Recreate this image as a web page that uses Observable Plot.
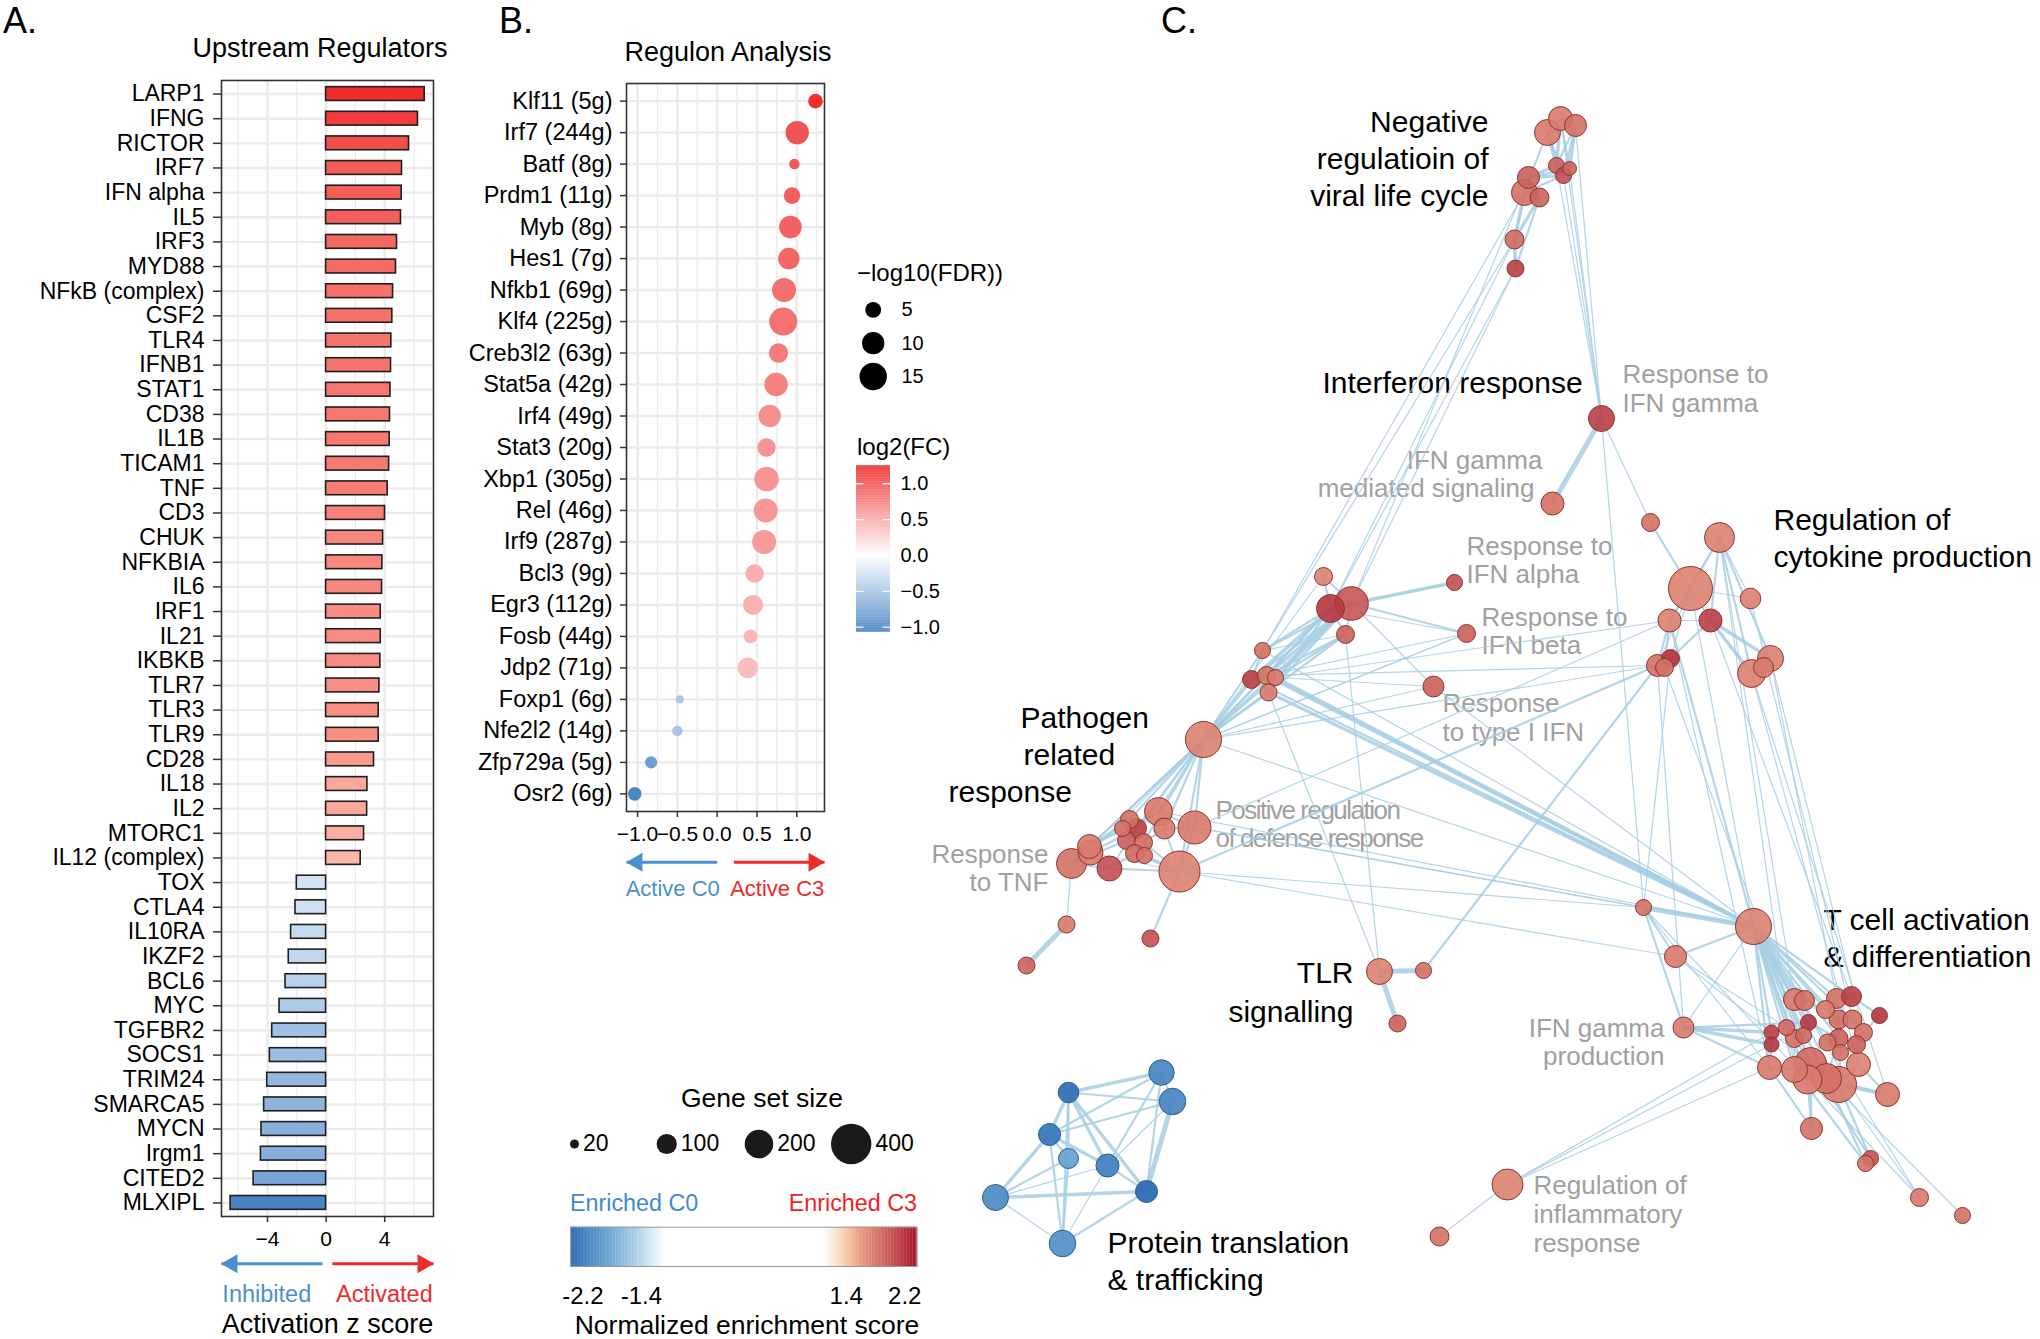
<!DOCTYPE html>
<html><head><meta charset="utf-8">
<script src="https://cdn.jsdelivr.net/npm/d3@7"></script>
<script src="https://cdn.jsdelivr.net/npm/@observablehq/plot@0.6"></script>
<style>
body{margin:0;background:#fff;}
#page{position:relative;width:2040px;height:1339px;overflow:hidden;background:#fff;font-family:"Liberation Sans",Arial,sans-serif;color:#000;}
.abs{position:absolute;}
.abs svg{overflow:visible;}
.txt{position:absolute;white-space:nowrap;line-height:1;}
</style></head><body><div id="page"></div>
<script>
// ---------------- DATA ----------------
// Panel A: Upstream regulators (activation z score)
const regulators = ["LARP1","IFNG","RICTOR","IRF7","IFN alpha","IL5","IRF3","MYD88","NFkB (complex)","CSF2","TLR4","IFNB1","STAT1","CD38","IL1B","TICAM1","TNF","CD3","CHUK","NFKBIA","IL6","IRF1","IL21","IKBKB","TLR7","TLR3","TLR9","CD28","IL18","IL2","MTORC1","IL12 (complex)","TOX","CTLA4","IL10RA","IKZF2","BCL6","MYC","TGFBR2","SOCS1","TRIM24","SMARCA5","MYCN","Irgm1","CITED2","MLXIPL"];
const zScores = [6.73,6.27,5.66,5.18,5.16,5.11,4.84,4.77,4.57,4.52,4.45,4.43,4.39,4.36,4.34,4.30,4.20,4.02,3.89,3.84,3.82,3.73,3.73,3.70,3.64,3.59,3.59,3.27,2.82,2.80,2.59,2.36,-2.00,-2.09,-2.39,-2.55,-2.77,-3.18,-3.68,-3.84,-4.02,-4.23,-4.41,-4.45,-4.95,-6.52];
const zTicks = [-4, 0, 4];
const zMinorGrid = [-6, -2, 2, 6];

// Panel B: Regulon analysis
const regulonNames = ["Klf11","Irf7","Batf","Prdm1","Myb","Hes1","Nfkb1","Klf4","Creb3l2","Stat5a","Irf4","Stat3","Xbp1","Rel","Irf9","Bcl3","Egr3","Fosb","Jdp2","Foxp1","Nfe2l2","Zfp729a","Osr2"];
const regulonGenes = [5,244,8,11,8,7,69,225,63,42,49,20,305,46,287,9,112,44,71,6,14,5,6];
const regulonFC = [1.235,1.005,0.97,0.94,0.92,0.90,0.84,0.83,0.77,0.74,0.66,0.62,0.62,0.61,0.59,0.47,0.45,0.42,0.385,-0.47,-0.50,-0.83,-1.035];
const regulonFDR = [4.3,10.9,2.2,5.5,10.2,9.2,11.5,15.7,7.5,10.9,10.0,6.8,12.1,11.5,11.5,6.9,8.0,3.9,8.5,1.3,2.2,2.9,3.7];
const fcTicks = [-1, -0.5, 0, 0.5, 1];
const fcMinorGrid = [-0.75, -0.25, 0.25, 0.75, 1.25];
const fdrLegend = [5, 10, 15];
const fcLegendTicks = [-1, -0.5, 0, 0.5, 1];

// Panel C: enrichment map nodes [id, layoutX, layoutY, gene set size, NES]
const viralNodes = [["V1",1547,132,166,1.8],["V2",1560,118,141,1.8],["V3",1575,125,119,1.85],["V4",1556,165,63,1.95],["V5",1569,168,48,1.95],["V6",1563,175,63,2.05],["V7",1528,177,119,1.95],["V8",1524,192,166,1.85],["V9",1539,197,88,1.95],["V10",1514,239,88,1.9],["V11",1515,268,71,2.15]];
const ifnNodes = [["I1",1601,418,166,2.15],["I2",1552,503,130,1.85],["I3",1323,576,79,1.75],["I4",1351,603,277,2.0],["I5",1330,608,192,2.2],["I6",1345,634,79,1.95],["I7",1454,582,63,2.05],["I8",1466,633,79,1.95],["I9",1433,686,108,1.95],["I10",1262,650,63,1.85],["I11",1251,679,79,2.15],["I12",1266,675,79,1.85],["I13",1275,677,63,1.8],["I14",1268,692,71,1.8],["I15",1650,522,79,1.85]];
const cytokineNodes = [["K1",1719,537,221,1.75],["K2",1690,588,474,1.75],["K3",1750,598,104,1.75],["K4",1669,620,130,1.75],["K5",1710,620,130,2.15],["K6",1670,658,79,2.25],["K7",1657,665,119,1.85],["K8",1664,667,79,1.85],["K9",1770,658,166,1.75],["K10",1751,673,192,1.75],["K11",1763,667,98,1.8]];
const pathogenNodes = [["P1",1203,739,318,1.75],["P2",1158,811,192,1.8],["P3",1194,827,267,1.8],["P4",1164,828,108,1.8],["P5",1129,819,79,1.85],["P6",1136,828,98,2.15],["P7",1122,828,63,1.85],["P8",1126,840,79,1.95],["P9",1143,842,79,1.9],["P10",1134,853,79,1.9],["P11",1144,855,63,1.85],["P12",1089,846,141,1.8],["P13",1090,852,153,1.8],["P14",1071,863,221,1.85],["P15",1109,868,153,2.05],["P16",1179,871,412,1.75],["P17",1066,924,71,1.8],["P18",1026,965,71,1.95],["P19",1150,938,71,2.05]];
const tlrNodes = [["L1",1379,971,166,1.75],["L2",1423,970,63,1.85],["L3",1397,1023,71,1.95]];
const tcellNodes = [["T1",1643,907,63,1.85],["T2",1753,926,318,1.75],["T3",1675,956,119,1.8],["T4",1683,1027,108,1.8],["T5",1794,999,119,1.8],["T6",1804,1000,98,1.85],["T7",1836,998,98,1.85],["T8",1851,996,98,2.15],["T9",1825,1009,79,1.8],["T10",1879,1015,63,2.2],["T11",1808,1022,63,2.2],["T12",1838,1019,88,1.9],["T13",1852,1019,88,1.85],["T14",1786,1027,63,1.9],["T15",1771,1032,55,2.15],["T16",1771,1044,55,2.2],["T17",1794,1038,79,1.85],["T18",1803,1035,63,1.9],["T19",1863,1032,79,1.85],["T20",1838,1038,88,1.95],["T21",1827,1042,71,1.85],["T22",1856,1044,79,1.95],["T23",1840,1052,63,1.85],["T24",1769,1067,141,1.8],["T25",1794,1069,166,1.8],["T26",1810,1063,251,1.9],["T27",1858,1064,141,1.75],["T28",1807,1079,206,1.8],["T29",1826,1078,221,1.85],["T30",1838,1084,318,1.8],["T31",1887,1094,141,1.8],["T32",1811,1128,119,1.85],["T33",1870,1158,63,2.05],["T34",1865,1163,63,1.85],["T35",1919,1197,79,1.8],["T36",1962,1215,63,1.85]];
const inflamNodes = [["R1",1507,1184,235,1.75],["R2",1439,1236,88,1.85]];
const proteinNodes = [["B1",1068,1092,104,-2.3],["B2",1161,1072,158,-2.1],["B3",1172,1101,173,-2.1],["B4",1049,1134,119,-2.25],["B5",1068,1158,98,-1.85],["B6",1107,1165,130,-2.15],["B7",1146,1191,119,-2.35],["B8",995,1197,166,-2.05],["B9",1062,1243,173,-2.0]];

// edges [from, to, similarity weight class]
const viralEdges = [["V1","V2",2],["V1","V3",2],["V2","V3",2],["V1","V4",3],["V2","V4",3],["V3","V4",2],["V2","V5",2],["V3","V5",3],["V3","V6",2],["V1","V6",2],["V4","V5",2],["V4","V6",2],["V5","V6",2],["V4","V7",3],["V6","V7",3],["V6","V8",2],["V5","V7",2],["V7","V8",3],["V7","V9",2],["V8","V9",2],["V8","V10",3],["V9","V10",3],["V7","V10",2],["V10","V11",3],["V9","V11",2],["V1","V8",1],
 ["V3","I1",1],["V5","I1",1],["V6","I1",1],["V4","I1",1],["V2","I1",1],["V1","I4",1],["V10","I5",1],["V11","I5",1],["V11","I4",1],["V8","I10",1],["V10","I10",1]];
const ifnEdges = [["I1","I2",4],["I1","I15",1],["I15","K2",2],["I1","T1",1],
 ["I4","I5",3],["I3","I4",2],["I3","I5",2],["I4","I6",2],["I5","I6",2],["I4","I7",3],["I5","I7",1],["I4","I8",2],["I5","I8",1],["I4","I9",1],["I4","I10",2],["I5","I10",2],["I4","I11",2],["I5","I11",3],["I4","I12",3],["I5","I12",2],["I4","I13",3],["I6","I13",2],["I4","I14",2],["I6","I12",2],["I5","I14",2],["I6","I10",1],["I10","I11",2],["I11","I12",2],["I12","I13",2],["I13","I14",2],["I11","I14",2],
 ["I4","P1",2],["I5","P1",2],["I6","P1",2],["I10","P1",2],["I11","P1",3],["I12","P1",2],["I13","P1",2],["I14","P1",2],["I3","P1",1],["I8","P1",1],["I9","P1",1],["I9","I13",1],["I8","I12",1],
 ["I12","T2",3],["I13","T2",3],["I14","T2",3],["I11","T2",2],["I10","T2",1],["I9","T2",1],
 ["I6","L1",1],["I14","L1",1],["I12","K7",1],["I13","K4",1],["P1","K7",1],["P16","K7",2],["P3","K4",1],["L2","K7",2]];
const cytokineEdges = [["K1","K2",2],["K1","K3",1],["K1","K5",2],["K1","K9",2],["K1","K10",2],["K1","K4",1],["K2","K4",2],["K2","K5",2],["K2","K3",1],["K2","K6",1],["K4","K5",1],["K5","K6",2],["K5","K9",3],["K5","K10",3],["K4","K7",2],["K4","K8",2],["K6","K7",2],["K6","K8",2],["K9","K11",2],["K10","K11",2],["K9","K10",2],["K2","K7",1],
 ["K1","T5",1],["K1","T25",1],["K2","T2",1],["K4","T2",2],["K5","T8",1],["K9","T7",1],["K10","T27",1],["K3","T13",1],["K6","T1",1],["K7","T4",1],["K4","T24",1],["K8","T26",1],["K10","T31",1],["K9","T19",1]];
const pathogenEdges = [["P1","P2",2],["P1","P3",2],["P1","P4",2],["P1","P5",2],["P1","P12",2],["P1","P14",2],["P1","P16",2],["P1","P6",2],["P1","P9",2],["P1","P13",1],["P1","P15",1],
 ["P2","P3",2],["P2","P4",2],["P2","P6",2],["P3","P4",2],["P3","P16",2],["P4","P16",2],["P5","P6",2],["P6","P8",2],["P8","P10",2],["P9","P11",2],["P12","P13",2],["P13","P14",2],["P12","P15",2],["P14","P15",2],["P15","P16",2],["P13","P16",1],["P16","P10",2],["P16","P9",2],["P7","P12",2],["P5","P12",2],["P6","P13",2],["P8","P14",2],["P2","P12",2],["P4","P9",2],["P10","P15",2],["P11","P16",2],["P6","P15",1],["P14","P17",1],["P17","P18",4],["P16","P19",2],
 ["P16","T1",1],["P3","T2",1],["P1","T2",1],["P16","T3",1],["P1","I8",1],["P3","T1",1],["P2","T2",1],["L1","L2",4],["L1","L3",4]];
const tcellEdges = [["T2","T5",2],["T2","T6",2],["T2","T7",2],["T2","T9",2],["T2","T11",2],["T2","T12",2],["T2","T14",2],["T2","T15",2],["T2","T17",2],["T2","T18",2],["T2","T20",2],["T2","T21",2],["T2","T24",2],["T2","T25",2],["T2","T26",2],["T2","T28",2],["T2","T29",2],["T2","T30",2],["T2","T8",2],["T2","T13",2],
 ["T1","T2",4],["T1","T3",2],["T1","T4",2],["T3","T2",2],["T4","T15",3],["T4","T16",3],["T4","T24",2],["T4","T11",2],["T3","T14",1],["T3","T26",1],["T1","T24",1],["T1","T28",1],["T4","T2",1],
 ["T5","T6",2],["T6","T9",2],["T7","T8",2],["T7","T9",2],["T8","T10",2],["T9","T12",2],["T12","T13",2],["T13","T19",2],["T19","T22",2],["T20","T21",2],["T20","T12",2],["T14","T15",2],["T15","T16",2],["T16","T24",2],["T17","T18",2],["T18","T11",2],["T11","T20",2],["T21","T23",2],["T23","T22",2],["T24","T25",2],["T25","T26",2],["T26","T28",2],["T28","T29",2],["T29","T30",2],["T27","T30",2],["T27","T22",2],["T10","T19",2],["T26","T17",2],["T30","T23",2],["T25","T17",2],["T29","T20",2],
 ["T30","T31",3],["T29","T31",2],["T27","T31",2],["T26","T32",2],["T24","T32",2],["T28","T32",2],["T30","T33",2],["T29","T34",2],["T26","T33",2],["T25","T34",2],["T30","T35",1],["T29","T36",1],["T28","T35",1],["T2","T35",1],
 ["R1","R2",1],["R1","T15",1],["R1","T16",1],["R1","T24",1]];
const proteinEdges = [["B1","B2",3],["B1","B3",2],["B1","B4",3],["B1","B6",3],["B1","B7",3],["B1","B9",2],["B1","B5",2],["B2","B4",2],["B2","B6",2],["B2","B3",2],["B3","B4",2],["B3","B7",4],["B3","B6",1],["B4","B5",2],["B4","B6",3],["B4","B8",3],["B4","B9",2],["B5","B8",2],["B5","B9",2],["B6","B7",2],["B6","B8",1],["B6","B9",1],["B7","B8",3],["B7","B9",2],["B8","B9",1],["B2","B7",2]];

// cluster labels [text, layoutX, layoutY, anchor]
const clusterLabels = [["Negative",1488,122,"end"],["regulatioin of",1488,159,"end"],["viral life cycle",1488,196,"end"],["Interferon response",1322,383,"start"],["Regulation of",1773,520,"start"],["cytokine production",1773,557,"start"],["Pathogen",1020,718,"start"],["related",1023,755,"start"],["response",948,792,"start"],["T cell activation",1823,920,"start"],["& differentiation",1823,957,"start"],["TLR",1353,973,"end"],["signalling",1353,1012,"end"],["Protein translation",1107,1243,"start"],["& trafficking",1107,1280,"start"]];
const termLabels = [["Response to",1622,374,"start"],["IFN gamma",1622,403,"start"],["IFN gamma",1542,460,"end"],["mediated signaling",1534,488,"end"],["Response to",1466,546,"start"],["IFN alpha",1466,574,"start"],["Response to",1481,617,"start"],["IFN beta",1481,645,"start"],["Response",1442,703,"start"],["to type I IFN",1442,732,"start"],["Response",1048,854,"end"],["to TNF",1048,882,"end"],["IFN gamma",1664,1028,"end"],["production",1664,1056,"end"],["Regulation of",1533,1185,"start"],["inflammatory",1533,1214,"start"],["response",1533,1243,"start"]];
const narrowTermLabels = [["Positive regulation",1215,810,"start"],["of defense response",1215,838,"start"]];
const sizeLegend = [20, 100, 200, 400];
const nesTicks = [-2.2, -1.4, 1.4, 2.2];

// ---------------- RENDER ----------------
const FONT = "'Liberation Sans', Arial, Helvetica, sans-serif";
const page = document.getElementById("page");
const baseStyle = {fontFamily: FONT, background: "transparent", overflow: "visible", maxWidth: "none"};
function mount(node, left, top) {
  const w = document.createElement("div");
  w.className = "abs"; w.style.left = left + "px"; w.style.top = top + "px";
  w.appendChild(node); page.appendChild(w);
  return node;
}
function txt(t, x, y, {size = 20, anchor = "start", color = "#000"} = {}) {
  const d = document.createElement("div");
  d.className = "txt"; d.textContent = t;
  const tx = anchor === "start" ? "0" : anchor === "middle" ? "-50%" : "-100%";
  Object.assign(d.style, {left: x + "px", top: y + "px", fontSize: size + "px", color, transform: `translate(${tx},-50%)`});
  page.appendChild(d);
}

const BLUE = "#4a8fcf", RED = "#ee2a2a";

// Panel letters & titles
txt("A.", 3, 21, {size: 36});
txt("B.", 499, 21, {size: 36});
txt("C.", 1161, 21, {size: 36});
txt("Upstream Regulators", 320, 48, {size: 27, anchor: "middle"});
txt("Regulon Analysis", 728, 52, {size: 27, anchor: "middle"});

// ---- Panel A ----
const tableA = regulators.map((name, i) => ({name, z: zScores[i]}));
const zDomain = [-7.14, 7.33];
mount(Plot.plot({
  width: 445, height: 1256, marginLeft: 221, marginRight: 12, marginTop: 80, marginBottom: 40,
  style: baseStyle,
  x: {domain: zDomain},
  y: {type: "band", domain: regulators, paddingInner: 0.44, paddingOuter: 0.27, round: false},
  color: {type: "linear", domain: [-6.6, -2.0, 0, 2.3, 6.8], range: ["#4783c5", "#d2e2f4", "#ffffff", "#fcb8aa", "#ee2b2b"]},
  marks: [
    Plot.ruleX(zMinorGrid, {stroke: "#ebebeb", strokeWidth: 1.2}),
    Plot.ruleX(zTicks, {stroke: "#ebebeb", strokeWidth: 2.4}),
    Plot.ruleY(regulators, {stroke: "#ebebeb", strokeWidth: 2.4}),
    Plot.barX(tableA, {x: "z", y: "name", fill: "z", stroke: "#1f1f1f", strokeWidth: 1.6}),
    Plot.frame({stroke: "#333", strokeWidth: 1.6}),
    Plot.axisY({tickSize: 8, tickPadding: 9, fontSize: 23, label: null, stroke: "#333", strokeWidth: 1.5, fill: "#000"}),
    Plot.axisX({ticks: zTicks, tickFormat: d3.format("d"), tickSize: 6, tickPadding: 9, fontSize: 21, label: null, stroke: "#333", strokeWidth: 1.5, fill: "#000"})
  ]
}), 0, 0);

function arrowPlot(arrows, domain, ml, mr, width, height, rows, rowRange, labelSize, title) {
  const marks = [
    Plot.link(arrows, {x1: "from", x2: "to", y1: () => "arrow", y2: () => "arrow", stroke: "color", strokeWidth: 3}),
    Plot.dot(arrows.filter(d => d.to > d.from), {x: "to", y: () => "arrow", symbol: "triangle", rotate: 90, r: 7, fill: "color", dx: -10.5}),
    Plot.dot(arrows.filter(d => d.to < d.from), {x: "to", y: () => "arrow", symbol: "triangle", rotate: -90, r: 7, fill: "color", dx: 10.5}),
    Plot.text(arrows, {x: "at", y: () => "label", text: "label", fill: "color", fontSize: labelSize})
  ];
  if (title) marks.push(Plot.text([title], {y: () => "title", fontSize: 27, fill: "#000"}));
  return Plot.plot({
    width, height, marginLeft: ml, marginRight: mr, marginTop: 0, marginBottom: 0, style: baseStyle,
    x: {domain, axis: null}, y: {type: "point", domain: rows, range: rowRange, padding: 0, round: false, axis: null},
    color: {type: "identity"}, marks
  });
}
const arrowsA = [
  {from: -0.25, to: zDomain[0], label: "Inhibited", at: -4.05, color: BLUE},
  {from: 0.43, to: zDomain[1], label: "Activated", at: 3.98, color: RED}
];
mount(arrowPlot(arrowsA, zDomain, 221, 12, 445, 95, ["arrow", "label", "title"], [18.3, 79], 23.5, "Activation z score"), 0, 1245);

// ---- Panel B ----
const tableB = regulonNames.map((n, i) => ({label: `${n} (${regulonGenes[i]}g)`, fc: regulonFC[i], fdr: regulonFDR[i]}));
const regulonLabels = tableB.map(d => d.label);
const fcDomain = [-1.139, 1.348];
const fcColor = {type: "linear", domain: [-1.07, 0, 1.25], range: ["#4582c3", "#ffffff", "#ee2a2a"]};
const fdrR = {type: "sqrt", domain: [0, 15], range: [0, 13.7]};
mount(Plot.plot({
  width: 400, height: 851, marginLeft: 186, marginRight: 16, marginTop: 83, marginBottom: 40,
  style: baseStyle,
  x: {domain: fcDomain},
  y: {type: "point", domain: regulonLabels, padding: 0.56, round: false},
  r: fdrR, color: fcColor,
  marks: [
    Plot.ruleX(fcMinorGrid, {stroke: "#ebebeb", strokeWidth: 1.4}),
    Plot.ruleX(fcTicks, {stroke: "#ebebeb", strokeWidth: 2.4}),
    Plot.ruleY(regulonLabels, {stroke: "#ebebeb", strokeWidth: 2.4}),
    Plot.dot(tableB, {x: "fc", y: "label", r: "fdr", fill: "fc"}),
    Plot.frame({stroke: "#333", strokeWidth: 1.6}),
    Plot.axisY({tickSize: 6, tickPadding: 8, fontSize: 23.5, label: null, stroke: "#333", strokeWidth: 1.5, fill: "#000"}),
    Plot.axisX({ticks: fcTicks, tickFormat: d3.format(".1f"), tickSize: 6, tickPadding: 9, fontSize: 21, label: null, stroke: "#333", strokeWidth: 1.5, fill: "#000"})
  ]
}), 440, 0);
const arrowsB = [
  {from: 0, to: fcDomain[0], label: "Active C0", at: -0.558, color: BLUE},
  {from: 0.209, to: fcDomain[1], label: "Active C3", at: 0.754, color: RED}
];
mount(arrowPlot(arrowsB, fcDomain, 186, 16, 400, 60, ["arrow", "label"], [16.7, 43.3], 22, null), 440, 845);

// B legends
txt("\u2212log10(FDR))", 857, 273, {size: 24});
mount(Plot.plot({
  width: 120, height: 110, margin: 0, style: baseStyle,
  y: {type: "point", domain: fdrLegend, range: [19.3, 86], padding: 0, round: false, axis: null},
  r: fdrR,
  marks: [
    Plot.dot(fdrLegend, {y: d => d, r: d => d, fill: "#000", frameAnchor: "left", dx: 32.7}),
    Plot.text(fdrLegend, {y: d => d, text: d => String(d), frameAnchor: "left", dx: 61, textAnchor: "start", fontSize: 20, fill: "#000"})
  ]
}), 840, 290);
txt("log2(FC)", 857, 447, {size: 24});
const fcRamp = d3.range(-1.07, 1.25, 0.01);
mount(Plot.plot({
  width: 120, height: 190, marginLeft: 16, marginRight: 70, marginTop: 10.3, marginBottom: 13.3, style: baseStyle,
  x: {domain: [0, 1], axis: null},
  y: {domain: [-1.07, 1.25]},
  color: fcColor,
  marks: [
    Plot.rect(fcRamp, {x1: 0, x2: 1, y1: d => d, y2: d => Math.min(1.25, d + 0.012), fill: d => d + 0.005}),
    Plot.ruleY(fcLegendTicks, {x1: 0, x2: 0.22, stroke: "white", strokeWidth: 1.2}),
    Plot.ruleY(fcLegendTicks, {x1: 0.78, x2: 1, stroke: "white", strokeWidth: 1.2}),
    Plot.axisY({anchor: "right", ticks: fcLegendTicks, tickFormat: d3.format(".1f"), tickSize: 0, tickPadding: 10, fontSize: 20, label: null, fill: "#000"})
  ]
}), 840, 455);

// ---- Panel C legends ----
const sizeR = {type: "sqrt", domain: [0, 400], range: [0, 20.2]};
const nesColor = {type: "linear", domain: [-2.37, -1.86, -1.4, -1.08, 1.1, 1.4, 1.6, 2.37],
  range: ["#2b6cb3", "#6aa2cf", "#b9d8ea", "#ffffff", "#ffffff", "#f6c9a9", "#e99c80", "#a8182e"]};
txt("Gene set size", 762, 1098, {size: 26.5, anchor: "middle"});
mount(Plot.plot({
  width: 400, height: 67, margin: 0, style: baseStyle,
  x: {type: "point", domain: sizeLegend, range: [34, 310.7], padding: 0, round: false, axis: null},
  r: sizeR,
  marks: [
    Plot.dot(sizeLegend, {x: d => d, r: d => d, fill: "#1a1a1a"}),
    ...sizeLegend.map(s => Plot.text([s], {x: d => d, text: d => String(d), dx: 20.2 * Math.sqrt(s / 400) + 4, textAnchor: "start", fontSize: 23, fill: "#000"}))
  ]
}), 540, 1110);
txt("Enriched C0", 570, 1204, {size: 23.3, color: "#3f8ad0"});
txt("Enriched C3", 917, 1204, {size: 23.3, anchor: "end", color: "#ee1f26"});
const nesRamp = d3.range(-2.37, 2.37, 0.02);
mount(Plot.plot({
  width: 400, height: 150, marginLeft: 30, marginRight: 23.3, marginTop: 36.7, marginBottom: 74, style: baseStyle,
  x: {domain: [-2.37, 2.37]},
  y: {domain: [0, 1], axis: null},
  color: nesColor,
  marks: [
    Plot.rect(nesRamp, {x1: d => d, x2: d => Math.min(2.37, d + 0.024), y1: 0, y2: 1, fill: d => d + 0.01}),
    Plot.frame({stroke: "#9a9a9a", strokeWidth: 1}),
    Plot.axisX({ticks: nesTicks, tickFormat: d => d.toFixed(1), tickSize: 0, tickPadding: 20, fontSize: 24, label: null, fill: "#000"})
  ]
}), 540, 1190);
txt("Normalized enrichment score", 747, 1325, {size: 26.5, anchor: "middle"});

// ---- Panel C network ----
const allNodes = [...viralNodes, ...ifnNodes, ...cytokineNodes, ...pathogenNodes, ...tlrNodes, ...tcellNodes, ...inflamNodes, ...proteinNodes]
  .map(([id, x, y, size, nes]) => ({id, x, y, size, nes}));
const nodeById = new Map(allNodes.map(d => [d.id, d]));
const edgeRows = [...viralEdges, ...ifnEdges, ...cytokineEdges, ...pathogenEdges, ...tcellEdges, ...proteinEdges]
  .filter(([a, b]) => nodeById.has(a) && nodeById.has(b))
  .map(([a, b, w]) => { const A = nodeById.get(a), B = nodeById.get(b); return {x1: A.x, y1: A.y, x2: B.x, y2: B.y, w}; });
const edgeWidth = {1: 1.2, 2: 2.2, 3: 3.4, 4: 5};
const toLabel = ([text, x, y, anchor]) => ({text, x, y, anchor});
const cl = clusterLabels.map(toLabel), tl = termLabels.map(toLabel), nl = narrowTermLabels.map(toLabel);
const labelMarks = [];
for (const a of ["start", "end", "middle"]) {
  const c = cl.filter(d => d.anchor === a), t = tl.filter(d => d.anchor === a), n = nl.filter(d => d.anchor === a);
  if (c.length) labelMarks.push(Plot.text(c, {x: "x", y: "y", text: "text", textAnchor: a, fontSize: 30, fill: "#000"}));
  if (t.length) labelMarks.push(Plot.text(t, {x: "x", y: "y", text: "text", textAnchor: a, fontSize: 26, fill: "#a0a0a0"}));
  if (n.length) labelMarks.push(Plot.text(n, {x: "x", y: "y", text: "text", textAnchor: a, fontSize: 26, fill: "#a0a0a0", className: "narrow-label"}));
}
const netSvg = mount(Plot.plot({
  width: 1140, height: 1339, margin: 0, style: baseStyle,
  x: {domain: [900, 2040], axis: null},
  y: {domain: [0, 1339], range: [0, 1339], axis: null},
  r: sizeR, color: nesColor,
  marks: [
    ...labelMarks,
    Plot.link(edgeRows, {x1: "x1", y1: "y1", x2: "x2", y2: "y2", stroke: "#a6cee3", strokeOpacity: 0.85, strokeWidth: d => edgeWidth[d.w]}),
    Plot.dot(allNodes.filter(d => d.nes > 0), {x: "x", y: "y", r: "size", fill: "nes", fillOpacity: 0.9, stroke: "#8a3530", strokeWidth: 1}),
    Plot.dot(allNodes.filter(d => d.nes < 0), {x: "x", y: "y", r: "size", fill: "nes", fillOpacity: 0.95, stroke: "#2d5d8f", strokeWidth: 1})
  ]
}), 900, 0);
// condensed lettering for the "Positive regulation of defense response" term label
netSvg.querySelectorAll("g.narrow-label text, .narrow-label text").forEach(t => t.setAttribute("letter-spacing", "-1.5"));
</script></body></html>
